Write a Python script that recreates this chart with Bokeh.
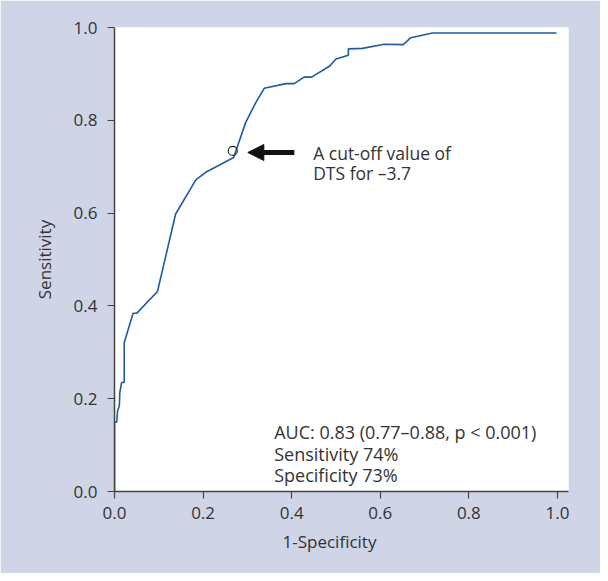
from bokeh.plotting import figure
from bokeh.models import Range1d, Label, Arrow, NormalHead, FixedTicker, Title
from bokeh.embed import file_html
from bokeh.resources import INLINE

# ROC curve
fpr = [0, 0, 0.005, 0.007, 0.011, 0.012, 0.016, 0.022, 0.022, 0.042, 0.050, 0.097,
       0.138, 0.184, 0.206, 0.269, 0.296, 0.319, 0.338, 0.387, 0.406, 0.428, 0.445,
       0.486, 0.500, 0.528, 0.528, 0.560, 0.609, 0.652, 0.669, 0.718, 0.998]
tpr = [0, 0.149, 0.150, 0.174, 0.185, 0.213, 0.235, 0.235, 0.321, 0.384, 0.384, 0.431,
       0.598, 0.672, 0.688, 0.720, 0.795, 0.838, 0.869, 0.879, 0.879, 0.893, 0.893,
       0.917, 0.932, 0.940, 0.954, 0.955, 0.964, 0.963, 0.978, 0.988, 0.988]

cutoff_x = [0.267]
cutoff_y = [0.734]

ticks = [0.0, 0.2, 0.4, 0.6, 0.8, 1.0]
tick_labels = {0.0: "0.0", 0.2: "0.2", 0.4: "0.4", 0.6: "0.6", 0.8: "0.8", 1.0: "1.0"}

x_title = "1-Specificity"
y_title = "Sensitivity"
note_lines = ["A cut-off value of", "DTS for \u20133.7"]
stat_lines = ["AUC: 0.83 (0.77\u20130.88, p < 0.001)", "Sensitivity 74%", "Specificity 73%"]

FONT = "Open Sans"
TXT = "#333333"
BG = "#cfd4e7"

p = figure(width=600, height=573, output_backend="svg", toolbar_location=None,
           x_range=Range1d(0, 1.025), y_range=Range1d(0, 1.0),
           min_border_left=114, min_border_right=32, min_border_top=27,
           min_border_bottom=82)
p.border_fill_color = BG
p.background_fill_color = "white"
p.outline_line_color = None
p.grid.visible = False

for ax in (p.xaxis[0], p.yaxis[0]):
    ax.ticker = FixedTicker(ticks=ticks)
    ax.major_label_overrides = tick_labels
    ax.minor_tick_line_color = None
    ax.major_tick_in = 0
    ax.major_tick_out = 7
    ax.axis_line_color = "#444444"
    ax.major_tick_line_color = "#444444"
    ax.axis_line_width = 1.5
    ax.major_tick_line_width = 1.2
    ax.major_label_text_font = FONT
    ax.major_label_text_font_size = "17px"
    ax.major_label_text_color = TXT
    ax.axis_label_text_font = FONT
    ax.axis_label_text_font_size = "17px"
    ax.axis_label_text_color = TXT
    ax.axis_label_text_font_style = "normal"

p.yaxis.axis_label = y_title
p.xaxis.major_label_standoff = 8
p.yaxis.major_label_standoff = 10
p.yaxis.axis_label_standoff = 15

p.add_layout(Title(text=x_title, align="left", offset=168, text_font=FONT,
                   text_font_size="17px", text_color=TXT, text_font_style="normal",
                   standoff=12), "below")

p.line(fpr, tpr, line_color="#1f5b9e", line_width=1.6)
p.scatter(cutoff_x, cutoff_y, marker="circle", size=9, fill_color=None,
          line_color="#222222", line_width=1.1)

p.add_layout(Arrow(end=NormalHead(size=16, fill_color="#111111", line_color="#111111"),
                   x_start=0.406, y_start=0.7306, x_end=0.301, y_end=0.7306,
                   line_width=5, line_color="#111111"))

for i, t in enumerate(note_lines):
    p.add_layout(Label(x=0.4485, y=0.7306 - i * 0.0445, text=t, text_font=FONT,
                       text_font_size="17.5px", text_color=TXT,
                       text_baseline="alphabetic"))

for i, t in enumerate(stat_lines):
    p.add_layout(Label(x=0.3605, y=0.129 - i * 0.0472, text=t, text_font=FONT,
                       text_font_size="18px", text_color=TXT,
                       text_baseline="alphabetic"))

open("out.html", "w").write(file_html(p, INLINE))
